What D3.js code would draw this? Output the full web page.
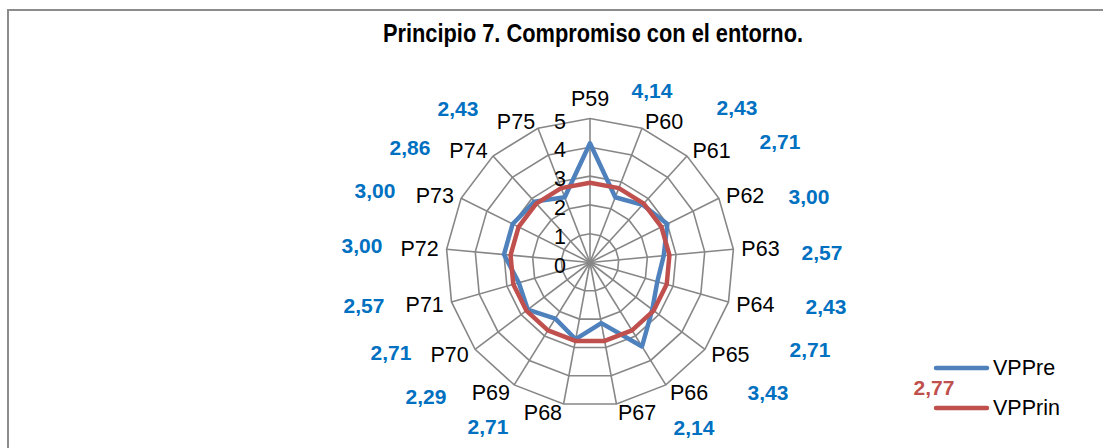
<!DOCTYPE html>
<html>
<head>
<meta charset="utf-8">
<script src="https://cdn.jsdelivr.net/npm/d3@7"></script>
<style>
  html, body { margin: 0; padding: 0; background: #fff; }
  svg { display: block; }
  text { font-family: "Liberation Sans", Arial, sans-serif; }
</style>
</head>
<body>
<svg id="chart" width="1103" height="448"></svg>
<script>
// ---- data ----
const title = "Principio 7. Compromiso con el entorno.";
const categories = ["P59","P60","P61","P62","P63","P64","P65","P66","P67","P68","P69","P70","P71","P72","P73","P74","P75"];
const vpPre = [4.14, 2.43, 2.71, 3.00, 2.57, 2.43, 2.71, 3.43, 2.14, 2.71, 2.29, 2.71, 2.57, 3.00, 3.00, 2.86, 2.43];
const vpPrinValue = 2.77;
const vpPrin = categories.map(() => vpPrinValue);
const seriesNames = ["VPPre", "VPPrin"];
const tickValues = [0, 1, 2, 3, 4, 5];
const valueLabels = ["4,14","2,43","2,71","3,00","2,57","2,43","2,71","3,43","2,14","2,71","2,29","2,71","2,57","3,00","3,00","2,86","2,43"];
const prinLabel = "2,77";

// ---- layout (manually placed data-label offsets from chart centre, as in original) ----
const labelOffsets = [[62,-172],[147,-155],[190,-121],[219,-66],[232,-10],[236,44],[220,87],[178,130],[104,165],
                      [-102,164],[-164,134],[-199,90],[-226,43],[-228,-17],[-215,-72],[-180,-115],[-132,-154]];

const svg = d3.select("#chart");
const cx = 590, cy = 262.5, R = 144;
const gridColor = "#878787";
const blue = "#4F81BD", red = "#C0504D", labelBlue = "#0070C0";

// chart border
svg.append("rect").attr("x", 8).attr("y", 10).attr("width", 1110).attr("height", 460)
  .attr("fill", "none").attr("stroke", "#8c8c8c").attr("stroke-width", 2);

// title
svg.append("text").attr("x", 593).attr("y", 42).attr("text-anchor", "middle")
  .attr("font-size", 25).attr("font-weight", "bold").attr("fill", "#000")
  .attr("textLength", 420).attr("lengthAdjust", "spacingAndGlyphs")
  .text(title);

const r = d3.scaleLinear().domain([0, 5]).range([0, R]);
const step = 2 * Math.PI / categories.length;
const ang = (i) => i * step;

const g = svg.append("g").attr("transform", `translate(${cx},${cy})`);

// grid polygons
const radialLine = d3.lineRadial().angle((d, i) => ang(i)).radius(d => r(d)).curve(d3.curveLinearClosed);
tickValues.filter(t => t > 0).forEach(t => {
  g.append("path").attr("d", radialLine(categories.map(() => t)))
    .attr("fill", "none").attr("stroke", gridColor).attr("stroke-width", 1.6);
});
// spokes
categories.forEach((c, i) => {
  const a = ang(i);
  g.append("line").attr("x1", 0).attr("y1", 0)
    .attr("x2", r(5) * Math.sin(a)).attr("y2", -r(5) * Math.cos(a))
    .attr("stroke", gridColor).attr("stroke-width", 1.6);
});

// tick labels
tickValues.forEach(t => {
  g.append("text").attr("x", -24).attr("y", -r(t) + 3)
    .attr("text-anchor", "end").attr("dominant-baseline", "central")
    .attr("font-size", 21.5).attr("fill", "#000").text(t);
});

// series lines
const seriesLine = d3.lineRadial().angle((d, i) => ang(i)).radius(d => r(d)).curve(d3.curveLinearClosed);
g.append("path").attr("d", seriesLine(vpPre)).attr("fill", "none")
  .attr("stroke", blue).attr("stroke-width", 4.5).attr("stroke-linejoin", "round");
g.append("path").attr("d", seriesLine(vpPrin)).attr("fill", "none")
  .attr("stroke", red).attr("stroke-width", 4.5).attr("stroke-linejoin", "round");

// category labels
categories.forEach((c, i) => {
  const a = ang(i), s = Math.sin(a), co = Math.cos(a);
  let x = r(5) * s + s * 8;
  let y = -r(5) * co - co * 8 + 1;
  let anchor = "middle";
  if (s > 0.1) anchor = "start"; else if (s < -0.1) anchor = "end";
  if (Math.abs(s) <= 0.1) y -= 13;
  g.append("text").attr("x", x).attr("y", y)
    .attr("text-anchor", anchor).attr("dominant-baseline", "central")
    .attr("font-size", 21.5).attr("fill", "#000").text(c);
});

// value labels (VPPre)
valueLabels.forEach((v, i) => {
  g.append("text").attr("x", labelOffsets[i][0]).attr("y", labelOffsets[i][1])
    .attr("text-anchor", "middle").attr("dominant-baseline", "central")
    .attr("font-size", 21).attr("font-weight", "bold").attr("fill", labelBlue).text(v);
});

// legend
const legend = svg.append("g");
[[blue, 368], [red, 408]].forEach((d, i) => {
  legend.append("line").attr("x1", 936).attr("x2", 987).attr("y1", d[1]).attr("y2", d[1])
    .attr("stroke", d[0]).attr("stroke-width", 4.5).attr("stroke-linecap", "round");
  legend.append("text").attr("x", 993).attr("y", d[1]).attr("dominant-baseline", "central")
    .attr("font-size", 21.5).attr("fill", "#000").text(seriesNames[i]);
});
legend.append("text").attr("x", 934).attr("y", 387).attr("text-anchor", "middle")
  .attr("dominant-baseline", "central").attr("font-size", 21).attr("font-weight", "bold")
  .attr("fill", red).text(prinLabel);
</script>
</body>
</html>
